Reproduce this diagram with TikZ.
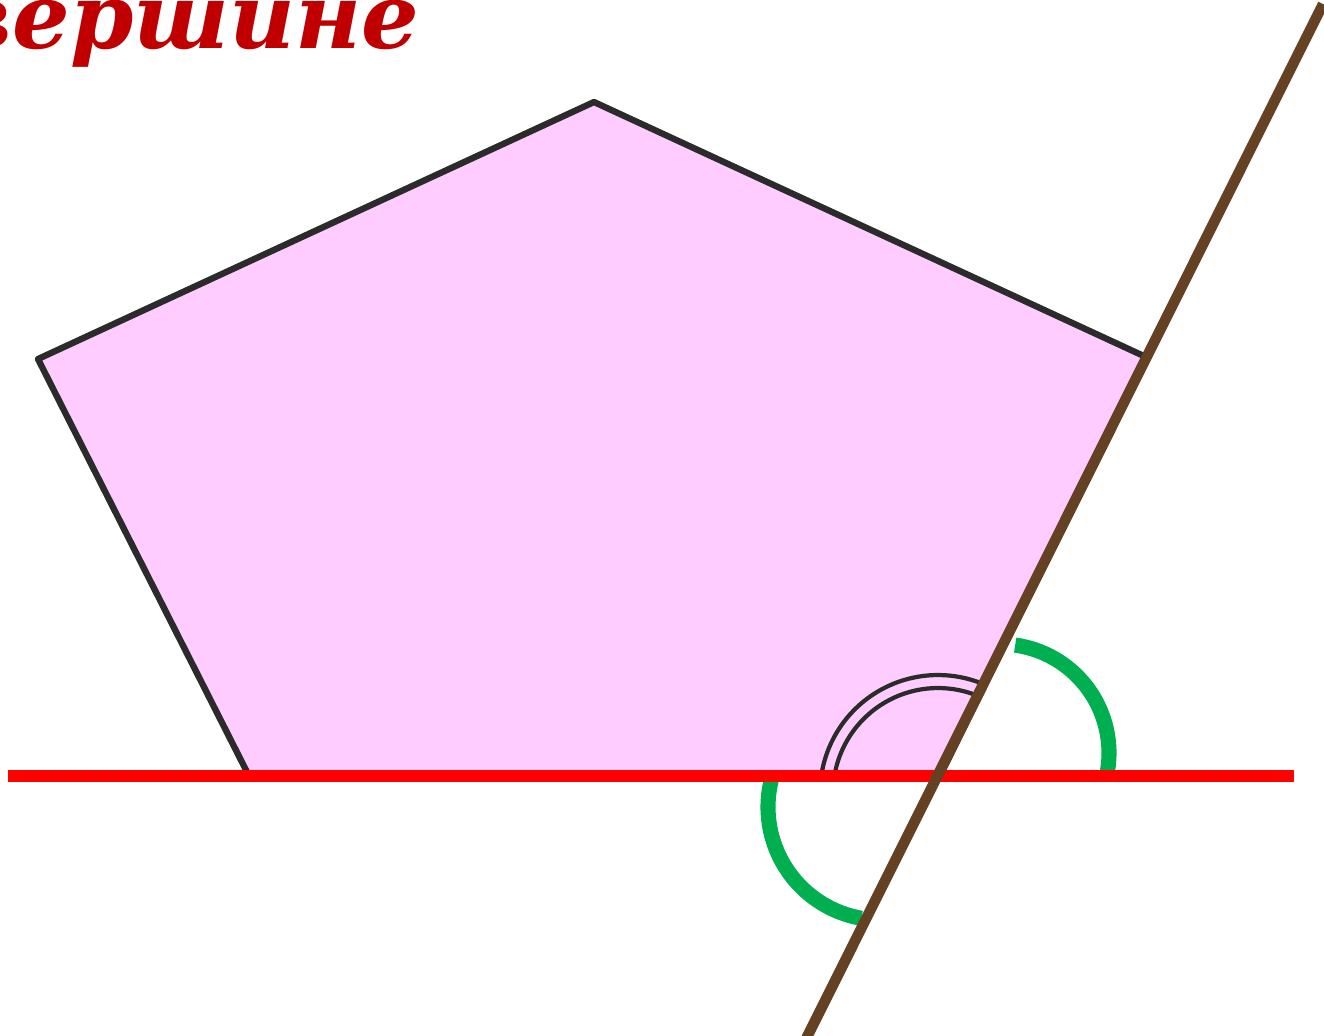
\documentclass[tikz,border=0pt]{standalone}
\usepackage{fontspec}
\newfontfamily\titlefont{DejaVu Serif}
\definecolor{pinkfill}{HTML}{FFCCFF}
\definecolor{darkline}{HTML}{2B2B2B}
\definecolor{brownline}{HTML}{634122}
\definecolor{greenarc}{HTML}{00B050}
\definecolor{darkred}{HTML}{C00000}

\begin{document}
\begin{tikzpicture}[x=0.01cm,y=0.01cm]
        \useasboundingbox (0,0) rectangle (1324,-1035);

        % the title, cut at the edge
        \node[anchor=base east,inner sep=0pt,darkred]
            at (420,-48) {\titlefont\fontsize{25.8}{30}\selectfont\bfseries\itshape вершине};

        % draw the pentagon
        \coordinate (T) at (594,-102);
        \coordinate (R) at (1146,-357);
        \coordinate (V) at (940,-776);
        \coordinate (B) at (248,-774);
        \coordinate (L) at (38,-359);
        \filldraw[darkline,line width=1.8pt,line join=round,fill=pinkfill]
            (T)
            -- (R)
            -- (V)
            -- (B)
            -- (L)
            -- cycle;

        % the angle of the pentagon
        \draw[darkline,line width=1.2pt]
            (938,-793) ++(169.7:118) arc[start angle=169.7,end angle=68.4,radius=118];
        \draw[darkline,line width=1.2pt]
            (938,-793) ++(168.5:105) arc[start angle=168.5,end angle=68.8,radius=105];

        % the outer angles
        \draw[greenarc,line width=4.3pt]
            (1000,-753) ++(82:109) arc[start angle=82,end angle=-14,radius=109];
        \draw[greenarc,line width=4.3pt]
            (881,-807) ++(166:113) arc[start angle=166,end angle=260,radius=113];

        % the two lines
        \draw[red,line width=3.4pt]
            (8,-776) -- (1294,-776);
        \draw[brownline,line width=3pt]
            (805,-1041) -- (1323,-4);
    \end{tikzpicture}
\end{document}
